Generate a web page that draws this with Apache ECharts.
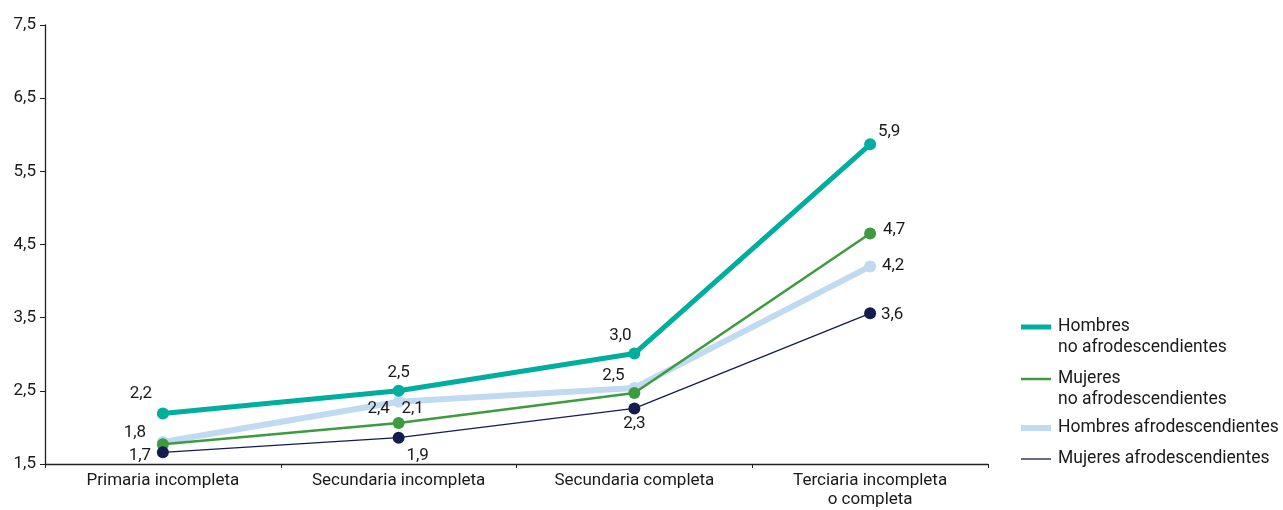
<!DOCTYPE html>
<html>
<head>
<meta charset="utf-8">
<script src="https://cdn.jsdelivr.net/npm/echarts@6/dist/echarts.min.js"></script>
<style>
html, body { margin: 0; padding: 0; background: #fff; }
#chart { width: 1283px; height: 510px; }
</style>
</head>
<body>
<div id="chart"></div>
<script>
// data
var categories = ['Primaria incompleta', 'Secundaria incompleta', 'Secundaria completa', 'Terciaria incompleta\no completa'];
var hombresNoAfro = [2.19, 2.5, 3.01, 5.87];
var mujeresNoAfro = [1.77, 2.06, 2.47, 4.65];
var hombresAfro = [1.8, 2.35, 2.54, 4.2];
var mujeresAfro = [1.66, 1.86, 2.26, 3.56];
var yTicks = [1.5, 2.5, 3.5, 4.5, 5.5, 6.5, 7.5];

var FONT = '"Roboto", sans-serif';
var TXT = '#1a1a1a';

// label offsets per point (null = no label)
function withLabels(values, offsets) {
	return values.map(function (v, i) {
		var o = offsets[i];
		if (!o) return { value: v, label: { show: false } };
		return { value: v, label: { show: true, position: 'inside', offset: o } };
	});
}

function fmt(p) {
	return p.value.toFixed(1).replace('.', ',');
}

function lineSeries(name, values, color, width, offsets, z) {
	return {
		name: name,
		type: 'line',
		data: withLabels(values, offsets),
		symbol: 'circle',
		symbolSize: 12,
		z: z,
		lineStyle: { color: color, width: width },
		itemStyle: { color: color },
		label: {
			formatter: fmt,
			color: TXT,
			fontSize: 17,
			fontFamily: FONT,
			align: 'center',
			verticalAlign: 'middle'
		},
		emphasis: { disabled: true }
	};
}

var legendItems = [
	{ y: 327, color: '#00ae9d', w: 5, text: 'Hombres\nno afrodescendientes' },
	{ y: 379, color: '#3d9b3f', w: 2.5, text: 'Mujeres\nno afrodescendientes' },
	{ y: 428, color: '#bfdaf1', w: 6, text: 'Hombres afrodescendientes' },
	{ y: 459, color: '#141d4d', w: 1.3, text: 'Mujeres afrodescendientes' }
];
var graphics = [];
legendItems.forEach(function (it) {
	graphics.push({
		type: 'line',
		shape: { x1: 1021, y1: it.y, x2: 1051, y2: it.y },
		style: { stroke: it.color, lineWidth: it.w }
	});
	graphics.push({
		type: 'text',
		left: 1058,
		top: it.y - 11,
		style: { text: it.text, fill: TXT, font: '17.5px ' + FONT, lineHeight: 21 }
	});
});

var chart = echarts.init(document.getElementById('chart'));
chart.setOption({
	animation: false,
	backgroundColor: '#fff',
	grid: { left: 45, right: 295, top: 25, bottom: 46 },
	xAxis: {
		type: 'category',
		data: categories,
		boundaryGap: true,
		axisLine: { lineStyle: { color: '#231f20', width: 1.3 } },
		axisTick: { show: true, length: 4, lineStyle: { color: '#231f20' } },
		axisLabel: { color: TXT, fontSize: 17, fontFamily: FONT, margin: 7, lineHeight: 19 }
	},
	yAxis: {
		type: 'value',
		min: 1.5,
		max: 7.5,
		interval: 1,
		axisLine: { show: true, lineStyle: { color: '#231f20', width: 1.3 } },
		axisTick: { show: true, length: 5, lineStyle: { color: '#231f20' } },
		splitLine: { show: false },
		axisLabel: {
			color: TXT, fontSize: 17, fontFamily: FONT, margin: 9,
			formatter: function (v) { return yTicks.indexOf(v) >= 0 ? v.toFixed(1).replace('.', ',') : ''; }
		}
	},
	series: [
		lineSeries('Hombres afrodescendientes', hombresAfro, '#bfdaf1', 6,
			[[-28, -9], [-20, 7], [-21, -12], [23, -1]], 2),
		lineSeries('Mujeres no afrodescendientes', mujeresNoAfro, '#3d9b3f', 2.5,
			[null, [14, -14], null, [24, -4]], 3),
		lineSeries('Mujeres afrodescendientes', mujeresAfro, '#141d4d', 1.3,
			[[-23, 3], [19, 18], [0, 15], [22, 1]], 4),
		lineSeries('Hombres no afrodescendientes', hombresNoAfro, '#00ae9d', 5,
			[[-22, -20], [0, -18], [-14, -18], [19, -13]], 5)
	],
	graphic: graphics
});
</script>
</body>
</html>
